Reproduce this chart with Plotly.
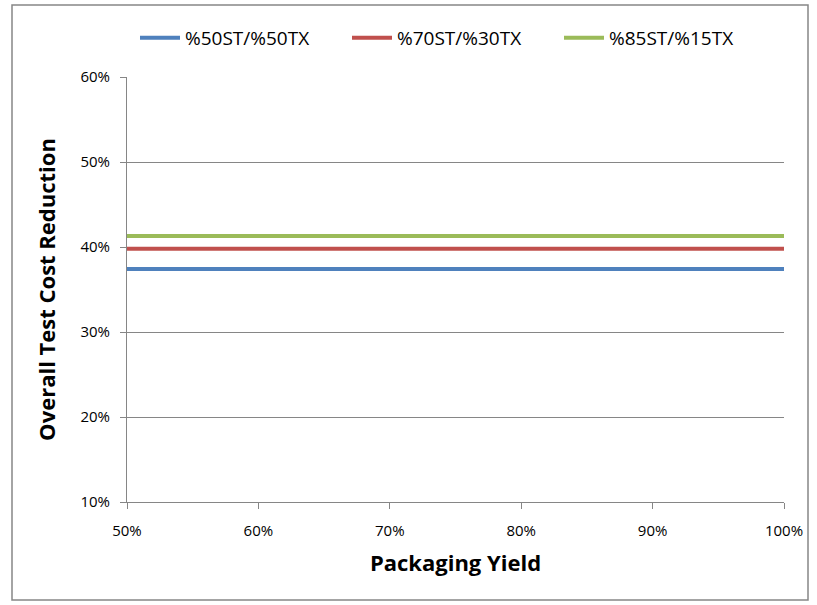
import plotly.graph_objects as go

# Packaging yield (x) and overall test cost reduction per test split (y)
packaging_yield = [0.50, 0.60, 0.70, 0.80, 0.90, 1.00]
series_names = ["%50ST/%50TX", "%70ST/%30TX", "%85ST/%15TX"]
reduction_50_50 = [0.374, 0.374, 0.374, 0.374, 0.374, 0.374]
reduction_70_30 = [0.398, 0.398, 0.398, 0.398, 0.398, 0.398]
reduction_85_15 = [0.413, 0.413, 0.413, 0.413, 0.413, 0.413]
series_colors = ["#4F81BD", "#C0504D", "#9BBB59"]

font_family = "Open Sans, Liberation Sans, Arial, sans-serif"

fig = go.Figure()
for name, values, color in zip(series_names,
                               [reduction_50_50, reduction_70_30, reduction_85_15],
                               series_colors):
    fig.add_trace(go.Scatter(
        x=packaging_yield, y=values, mode="lines", name=name,
        line=dict(color=color, width=4),
    ))

W, H = 817, 605
L, R, T, B = 127, 33, 77, 103
pw, ph = W - L - R, H - T - B

fig.update_layout(
    width=W, height=H,
    margin=dict(l=L, r=R, t=T, b=B),
    paper_bgcolor="white", plot_bgcolor="white",
    font=dict(family=font_family, color="#000000"),
    showlegend=True,
    legend=dict(
        orientation="h", x=(135 - L) / pw, y=(H - B - 38) / ph,
        xanchor="left", yanchor="middle",
        font=dict(size=19, family=font_family),
        itemwidth=40, tracegroupgap=0, entrywidthmode="pixels", entrywidth=157,
        bgcolor="rgba(0,0,0,0)",
    ),
    xaxis=dict(
        range=[0.50, 1.00], tickvals=packaging_yield, tickformat=".0%",
        showgrid=False, zeroline=False,
        showline=True, linecolor="#868686", linewidth=1,
        ticks="outside", ticklen=6, tickcolor="#868686",
        ticklabelstandoff=9,
        tickfont=dict(size=15, family=font_family),
        title=dict(text="<b>Packaging Yield</b>", font=dict(size=22, family=font_family), standoff=16),
    ),
    yaxis=dict(
        range=[0.10, 0.60], dtick=0.10, tickformat=".0%",
        showgrid=True, gridcolor="#868686", gridwidth=1, zeroline=False,
        showline=True, linecolor="#868686", linewidth=1,
        ticks="outside", ticklen=6, tickcolor="#868686",
        ticklabelstandoff=7,
        tickfont=dict(size=15, family=font_family),
        title=dict(text="<b>Overall Test Cost Reduction</b>", font=dict(size=22, family=font_family), standoff=18),
    ),
    shapes=[dict(
        type="rect", xref="paper", yref="paper",
        x0=(12 - L) / pw, x1=(808 - L) / pw,
        y0=(H - B - 600) / ph, y1=(H - B - 5) / ph,
        line=dict(color="#868686", width=1.5), fillcolor="rgba(0,0,0,0)", layer="below",
    )],
)

fig.write_html("out.html")
